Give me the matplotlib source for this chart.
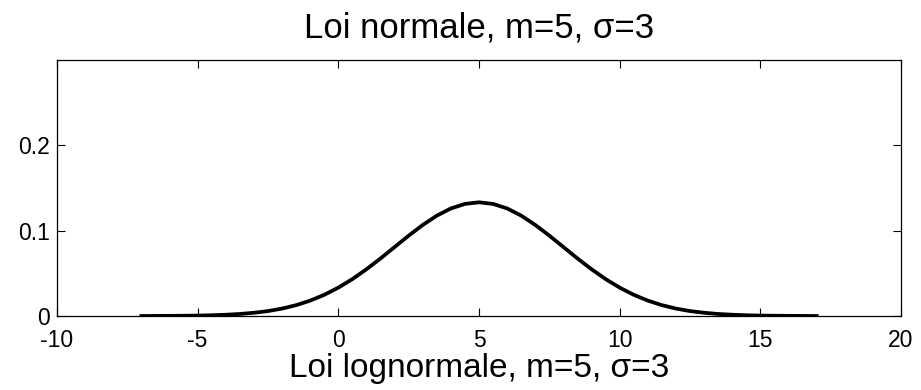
import numpy as np
import matplotlib
matplotlib.use("Agg")
import matplotlib.pyplot as plt

plt.rcParams['font.family'] = ['Liberation Sans', 'DejaVu Sans']
plt.rcParams['axes.unicode_minus'] = False

# valeurs (x de -7 a 17, pas de 0.5)
x_vals = [-7.0, -6.5, -6.0, -5.5, -5.0, -4.5, -4.0, -3.5, -3.0, -2.5, -2.0, -1.5,
          -1.0, -0.5, 0.0, 0.5, 1.0, 1.5, 2.0, 2.5, 3.0, 3.5, 4.0, 4.5, 5.0,
          5.5, 6.0, 6.5, 7.0, 7.5, 8.0, 8.5, 9.0, 9.5, 10.0, 10.5, 11.0, 11.5,
          12.0, 12.5, 13.0, 13.5, 14.0, 14.5, 15.0, 15.5, 16.0, 16.5, 17.0]
pdf_vals = [0.0000, 0.0001, 0.0002, 0.0003, 0.0005, 0.0009, 0.0015, 0.0024,
            0.0038, 0.0058, 0.0087, 0.0127, 0.0180, 0.0248, 0.0332, 0.0432,
            0.0547, 0.0673, 0.0807, 0.0940, 0.1065, 0.1174, 0.1258, 0.1311,
            0.1330,
            0.1311, 0.1258, 0.1174, 0.1065, 0.0940, 0.0807, 0.0673, 0.0547,
            0.0432, 0.0332, 0.0248, 0.0180, 0.0127, 0.0087, 0.0058, 0.0038,
            0.0024, 0.0015, 0.0009, 0.0005, 0.0003, 0.0002, 0.0001, 0.0000]

x_ticks = [-10, -5, 0, 5, 10, 15, 20]
y_ticks = [0, 0.1, 0.2]
y_labels = ["0", "0.1", "0.2"]

fig = plt.figure(figsize=(9.21, 3.90), dpi=100)
ax = fig.add_axes([0.0619, 0.1897, 0.9164, 0.6577])

ax.plot(x_vals, pdf_vals, color="black", linewidth=2.7)

ax.set_xlim(-10, 20)
ax.set_ylim(0, 0.3)
ax.set_xticks(x_ticks)
ax.set_yticks(y_ticks)
ax.set_yticklabels(y_labels)
ax.tick_params(direction="in", length=6, width=0.8, top=True, right=True,
               labelsize=16.5)
ax.tick_params(axis="x", pad=9)
ax.tick_params(axis="y", pad=5)
for s in ax.spines.values():
    s.set_linewidth(0.9)

fig.text(0.52, 0.905, "Loi normale, m=5, σ=3", ha="center", va="baseline",
         fontsize=25)
fig.text(0.52, 0.033, "Loi lognormale, m=5, σ=3", ha="center", va="baseline",
         fontsize=24)

fig.savefig("out.png", dpi=100)
